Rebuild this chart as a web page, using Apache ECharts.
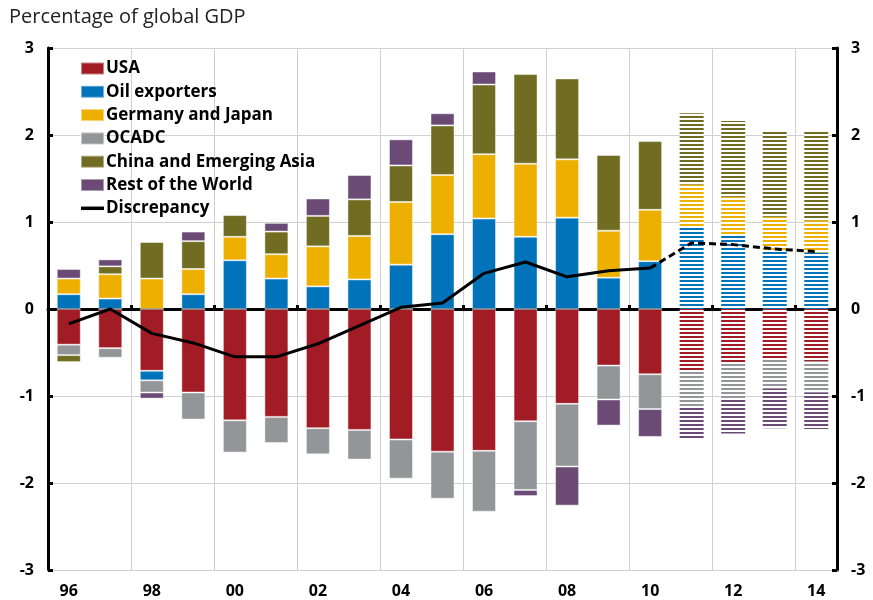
<!DOCTYPE html>
<html>
<head>
<meta charset="utf-8">
<script src="https://cdn.jsdelivr.net/npm/echarts@6/dist/echarts.min.js"></script>
<style>
    html, body { margin: 0; padding: 0; background: #fff; }
    #main { width: 873px; height: 600px; }
</style>
</head>
<body>
<div id="main"></div>
<script>
const log = console.log.bind(console)
const e = sel => document.querySelector(sel)

// data, percentage of global GDP
const years = ['96', '97', '98', '99', '00', '01', '02', '03', '04', '05',
    '06', '07', '08', '09', '10', '11', '12', '13', '14']
// index of first projected year (2011)
const firstForecast = 15

const usa = [-0.41, -0.45, -0.71, -0.96, -1.28, -1.24, -1.37, -1.39, -1.50, -1.64,
    -1.63, -1.29, -1.09, -0.65, -0.75, -0.71, -0.62, -0.57, -0.60]
const oil = [0.17, 0.12, -0.11, 0.17, 0.56, 0.35, 0.26, 0.34, 0.51, 0.86,
    1.04, 0.83, 1.05, 0.36, 0.55, 0.95, 0.86, 0.67, 0.65]
const germanyJapan = [0.18, 0.28, 0.35, 0.29, 0.27, 0.28, 0.46, 0.50, 0.72, 0.68,
    0.74, 0.84, 0.67, 0.54, 0.59, 0.48, 0.43, 0.39, 0.37]
const ocadc = [-0.12, -0.11, -0.14, -0.31, -0.37, -0.30, -0.30, -0.34, -0.45, -0.54,
    -0.70, -0.79, -0.72, -0.39, -0.40, -0.41, -0.40, -0.35, -0.36]
const china = [-0.08, 0.09, 0.42, 0.32, 0.25, 0.26, 0.35, 0.42, 0.42, 0.57,
    0.80, 1.03, 0.93, 0.87, 0.79, 0.82, 0.87, 0.98, 1.02]
const rest = [0.11, 0.08, -0.07, 0.11, 0.01, 0.10, 0.20, 0.28, 0.30, 0.14,
    0.15, -0.07, -0.45, -0.30, -0.32, -0.37, -0.41, -0.45, -0.42]
const discrepancy = [-0.17, 0.00, -0.28, -0.39, -0.55, -0.55, -0.40, -0.19, 0.02, 0.07,
    0.41, 0.54, 0.37, 0.44, 0.47, 0.76, 0.74, 0.69, 0.66]

const yTicks = [-3, -2, -1, 0, 1, 2, 3]

const font = "'Open Sans', 'Noto Sans', sans-serif"

// horizontal stripes for the projected years
const stripes = (color) => {
    let c = document.createElement('canvas')
    c.width = 4
    c.height = 4
    let ctx = c.getContext('2d')
    ctx.fillStyle = '#fff'
    ctx.fillRect(0, 0, 4, 4)
    ctx.fillStyle = color
    ctx.fillRect(0, 0, 4, 2)
    return { image: c, repeat: 'repeat' }
}

const barSeries = (name, values, color) => {
    let data = values.map((v, i) => {
        if (i < firstForecast) {
            return v
        }
        return { value: v, itemStyle: { color: stripes(color), borderWidth: 0 } }
    })
    return {
        name: name,
        type: 'bar',
        stack: 'total',
        barWidth: 24,
        itemStyle: { color: color, borderColor: 'rgba(255,255,255,0.45)', borderWidth: 1 },
        data: data,
    }
}

const yAxis = (position) => {
    return {
        type: 'value',
        position: position,
        min: yTicks[0],
        max: yTicks[yTicks.length - 1],
        interval: 1,
        axisLine: { show: true, lineStyle: { color: '#000', width: 3 } },
        axisTick: { show: true, inside: true, length: 5, lineStyle: { color: '#000', width: 3 } },
        axisLabel: { color: '#000', fontWeight: 'bold', fontSize: 16, fontFamily: font, margin: 14 },
        splitLine: { show: position === 'left', lineStyle: { color: '#d0d0d0', width: 1 } },
    }
}

const drawChart = () => {
    let chart = echarts.init(e('#main'))
    let solid = discrepancy.map((v, i) => i < firstForecast ? v : null)
    let dashed = discrepancy.map((v, i) => i >= firstForecast - 1 ? v : null)
    let names = ['USA', 'Oil exporters', 'Germany and Japan', 'OCADC',
        'China and Emerging Asia', 'Rest of the World']
    let legendData = names.map(n => ({ name: n, icon: 'rect' }))
    legendData.push({ name: 'Discrepancy', icon: 'path://M0,0L23,0L23,3.5L0,3.5Z' })
    let option = {
        animation: false,
        title: {
            text: 'Percentage of global GDP',
            left: 9,
            top: 7,
            padding: 0,
            textStyle: { fontFamily: font, fontSize: 20, fontWeight: 'normal', color: '#222' },
        },
        legend: {
            orient: 'vertical',
            left: 80,
            top: 60,
            padding: 0,
            itemWidth: 23,
            itemHeight: 12,
            itemGap: 6.3,
            data: legendData,
            textStyle: {
                fontFamily: font, fontSize: 17, lineHeight: 17, fontWeight: 'bold', color: '#000',
                padding: [0, 0, 0, -3],
            },
        },
        grid: {
            left: 48,
            right: 36,
            top: 48,
            bottom: 30,
        },
        xAxis: [
            {
                type: 'category',
                data: years,
                position: 'bottom',
                axisLine: { onZero: false, lineStyle: { color: '#d0d0d0' } },
                axisTick: { show: false, interval: 1 },
                axisLabel: { interval: 1, color: '#000', fontWeight: 'bold', fontSize: 16, fontFamily: font, margin: 13 },
                splitLine: { show: true, interval: 1, lineStyle: { color: '#d0d0d0', width: 1 } },
            },
            {
                type: 'category',
                data: years,
                position: 'top',
                axisLine: { onZero: true, lineStyle: { color: '#000', width: 3 } },
                axisTick: { show: true, interval: 1, inside: false, length: 4, lineStyle: { color: '#000', width: 3 } },
                axisLabel: { show: false },
                splitLine: { show: false },
            },
        ],
        yAxis: [yAxis('left'), yAxis('right')],
        series: [
            barSeries('USA', usa, '#A21C25'),
            barSeries('Oil exporters', oil, '#0073BA'),
            barSeries('Germany and Japan', germanyJapan, '#EEB000'),
            barSeries('OCADC', ocadc, '#939598'),
            barSeries('China and Emerging Asia', china, '#706C22'),
            barSeries('Rest of the World', rest, '#6B4A76'),
            {
                name: 'Discrepancy',
                type: 'line',
                data: solid,
                symbol: 'none',
                z: 5,
                lineStyle: { color: '#000', width: 3 },
                itemStyle: { color: '#000' },
            },
            {
                name: 'Discrepancy projected',
                type: 'line',
                data: dashed,
                symbol: 'none',
                z: 5,
                lineStyle: { color: '#000', width: 3, type: [7, 4] },
                itemStyle: { color: '#000' },
            },
        ],
    }
    chart.setOption(option)
}

const __main = () => {
    drawChart()
}

__main()
</script>
</body>
</html>
